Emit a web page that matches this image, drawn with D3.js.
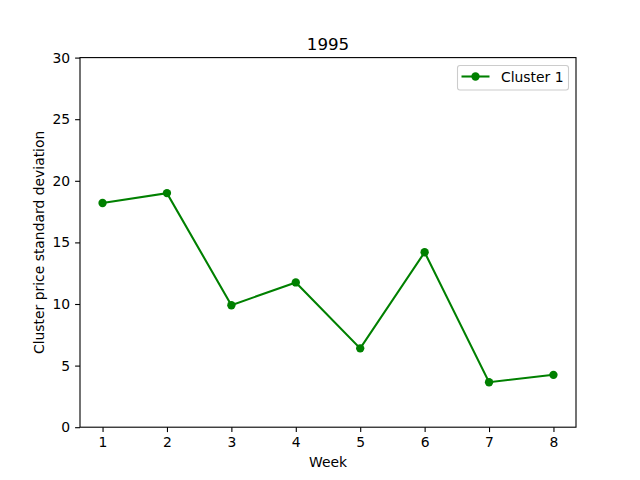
<!DOCTYPE html>
<html><head><meta charset="utf-8">
<script src="https://d3js.org/d3.v7.min.js"></script>
<style>body{margin:0;background:#fff}svg{display:block;font-family:"DejaVu Sans",sans-serif}</style>
</head><body>
<script>
const weeks = [1, 2, 3, 4, 5, 6, 7, 8];
const cluster1 = [18.2, 19.0, 9.9, 11.75, 6.4, 14.2, 3.65, 4.25];
const yTicks = [0, 5, 10, 15, 20, 25, 30];
const xTicks = [1, 2, 3, 4, 5, 6, 7, 8];
const title = "1995";
const xLabel = "Week";
const yLabel = "Cluster price standard deviation";
const seriesName = "Cluster 1";

const W = 640, H = 480;
const L = 80, R = 576, T = 57.6, B = 427.2;
const color = "#008000";
const fs = 13.9;
const svg = d3.select("body").append("svg").attr("width", W).attr("height", H);
const x = d3.scaleLinear().domain([0.65, 8.35]).range([L, R]);
const y = d3.scaleLinear().domain([0, 30]).range([B, T]);

const gx = svg.append("g").attr("transform", `translate(0,${B})`)
  .call(d3.axisBottom(x).tickValues(xTicks).tickSize(4.9).tickPadding(4.9).tickFormat(d3.format("d")));
const gy = svg.append("g").attr("transform", `translate(${L},0)`)
  .call(d3.axisLeft(y).tickValues(yTicks).tickSize(4.9).tickPadding(4.9).tickFormat(d3.format("d")));
[gx, gy].forEach(g => {
  g.select(".domain").remove();
  g.selectAll("text").attr("font-size", fs).attr("fill", "#000").attr("font-family", "DejaVu Sans, sans-serif");
  g.selectAll("line").attr("stroke", "#000").attr("stroke-width", 1.1);
});

svg.append("path")
  .datum(weeks.map((w, i) => [w, cluster1[i]]))
  .attr("fill", "none").attr("stroke", color).attr("stroke-width", 2.08)
  .attr("d", d3.line().x(d => x(d[0])).y(d => y(d[1])));
svg.selectAll("circle.pt").data(weeks.map((w, i) => [w, cluster1[i]])).enter()
  .append("circle").attr("class", "pt")
  .attr("cx", d => x(d[0])).attr("cy", d => y(d[1])).attr("r", 4.17).attr("fill", color);

svg.append("rect").attr("x", L).attr("y", T).attr("width", R - L).attr("height", B - T)
  .attr("fill", "none").attr("stroke", "#000").attr("stroke-width", 1.1);

svg.append("text").attr("x", (L + R) / 2).attr("y", 49.5).attr("text-anchor", "middle")
  .attr("font-size", 16.7).text(title);
svg.append("text").attr("x", (L + R) / 2).attr("y", 467).attr("text-anchor", "middle")
  .attr("font-size", fs).text(xLabel);
svg.append("text").attr("transform", `translate(44,${(T + B) / 2}) rotate(-90)`).attr("text-anchor", "middle")
  .attr("font-size", fs).text(yLabel);

// legend
const lg = svg.append("g");
lg.append("rect").attr("x", 457.5).attr("y", 65.5).attr("width", 111).attr("height", 24.5)
  .attr("rx", 2.5).attr("fill", "#fff").attr("stroke", "#ccc").attr("stroke-width", 1.1);
lg.append("line").attr("x1", 461.5).attr("x2", 489.5).attr("y1", 76.5).attr("y2", 76.5)
  .attr("stroke", color).attr("stroke-width", 2.08);
lg.append("circle").attr("cx", 475.5).attr("cy", 76.5).attr("r", 4.17).attr("fill", color);
lg.append("text").attr("x", 501).attr("y", 81.5).attr("font-size", fs).text(seriesName);
</script>
</body></html>
